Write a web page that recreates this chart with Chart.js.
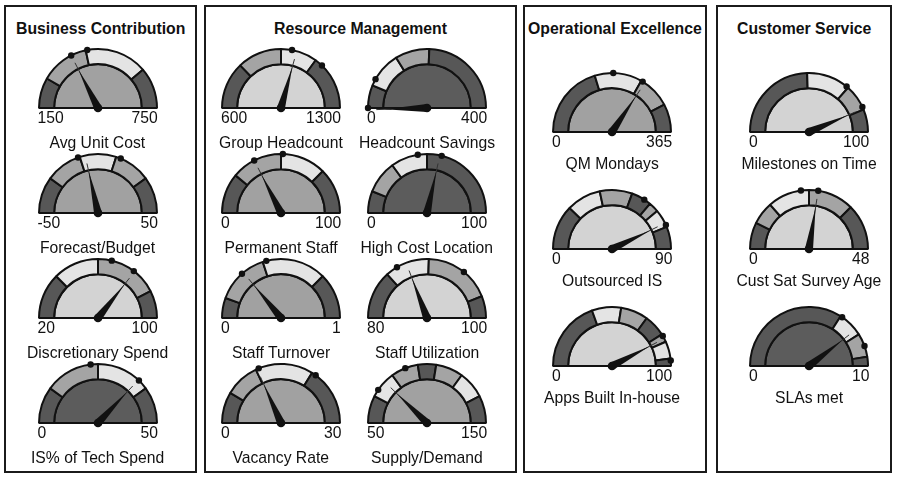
<!DOCTYPE html>
<html>
<head>
<meta charset="utf-8">
<script src="https://cdn.jsdelivr.net/npm/chart.js@4.4.0/dist/chart.umd.min.js"></script>
<style>
    body{margin:0;background:#fff;font-family:"Liberation Sans",Arial,Helvetica,sans-serif;}
    #painel{position:relative;width:897px;height:478px;overflow:hidden;}
    .bloco{position:absolute;box-sizing:border-box;border:2px solid #1b1b1b;}
    .titulo{position:absolute;font-weight:bold;font-size:15.8px;line-height:15px;white-space:nowrap;color:#111;}
    .rotulo{position:absolute;font-size:15.7px;line-height:15px;white-space:nowrap;color:#111;}
    canvas{position:absolute;}
</style>
</head>
<body>
<div id="painel"></div>
<script>
// dados dos medidores
var titulosPaineis=["Business Contribution","Resource Management","Operational Excellence","Customer Service"];
var nomesMedidores=["Avg Unit Cost","Forecast/Budget","Discretionary Spend","IS% of Tech Spend",
    "Group Headcount","Headcount Savings","Permanent Staff","High Cost Location","Staff Turnover","Staff Utilization","Vacancy Rate","Supply/Demand",
    "QM Mondays","Outsourced IS","Apps Built In-house",
    "Milestones on Time","Cust Sat Survey Age","SLAs met"];
var painelDoMedidor=[0,0,0,0, 1,1,1,1,1,1,1,1, 2,2,2, 3,3,3];
var minimos=[150,-50,20,0, 600,0,0,0,0,80,0,50, 0,0,0, 0,0,0];
var maximos=[750,50,100,50, 1300,400,100,100,1,100,30,150, 365,90,100, 100,48,10];
var valores=[360,-7,77,37, 1010,-4,35,57,0.28,87.7,11,74.6, 251,77,84.6, 87,26.4,7.9];
var limitesFaixas=[
    [250,410,615],
    [-30,-10,10,30],
    [40,60,88],
    [10,25,40],
    [780,950,1090],
    [50,130,205],
    [22,50,75],
    [12,30,50],
    [0.11,0.40,0.75],
    [85.3,90.2,97.6],
    [5.1,10.8,20.3],
    [65,80,95,105,120,135],
    [148,243,309],
    [22,39,55,65,70,79],
    [39,55,70,82,86.5,96],
    [49,73,87.6],
    [7,13,24,36],
    [6.8,8.2,9.5]
];
var tonsFaixas=["DMLD","DMLMD","DLMD","DMLD",
    "DMLD","DLMD","DMLD","DMLD","DMLD","DLMD","DMLD","DLMDMLD",
    "DLMD","DLMDMLD","DLMDMLD",
    "DLMD","DMLMD","DLMD"];
var tonsInternos=["M","M","L","D", "L","D","M","D","M","L","M","M", "M","L","L", "L","L","D"];
var marcadores=[[360,415],[-11,12.6],[66,76.6],[23,37.2],
    [992,1121],[0,65],[35,51],[45,58],[0.27,0.42],[86.6,94.3],[11.3,21],[69,88],
    [185,246],[61.6,78],[83,97],
    [72,86],[21.9,26.4],[6.9,8.9]];

// layout
var caixasPaineis=[[4,5,193,468],[204,5,313,468],[523,5,184,468],[716,5,176,468]];
var centroX=[97.5,97.5,97.5,97.5, 281,427,281,427,281,427,281,427, 612,612,612, 809,809,809];
var baseY=[109,214,319,424, 109,109,214,214,319,319,424,424, 133,250,367, 133,250,367];
var distNome=[37.5,35,35,35]; // distancia da base ao nome, por painel
var raio=61, folga=8;
var coresBanda={D:"#575757",M:"#a4a4a4",L:"#e4e4e4"};
var coresInternas={D:"#5c5c5c",M:"#a1a1a1",L:"#d3d3d3"};

var painel=document.getElementById("painel");

function criaTexto(classe,texto,x,y,alinhamento){
    var el=document.createElement("div");
    el.className=classe;
    el.textContent=texto;
    painel.appendChild(el);
    var w=el.offsetWidth;
    var left=x;
    if(alinhamento=="centro") left=x-w/2;
    if(alinhamento=="direita") left=x-w;
    el.style.left=left+"px";
    el.style.top=(y-12)+"px"; // y = linha de base do texto
    return el;
}

for (let i = 0; i < caixasPaineis.length; i++) {
    var b=document.createElement("div");
    b.className="bloco";
    b.style.left=caixasPaineis[i][0]+"px";
    b.style.top=caixasPaineis[i][1]+"px";
    b.style.width=caixasPaineis[i][2]+"px";
    b.style.height=caixasPaineis[i][3]+"px";
    painel.appendChild(b);
    criaTexto("titulo",titulosPaineis[i],caixasPaineis[i][0]+caixasPaineis[i][2]/2,33,"centro");
}

function pluginPonteiro(idx){
    return {
        id:"ponteiro"+idx,
        afterDatasetsDraw:function(chart){
            var arco=chart.getDatasetMeta(0).data[0];
            var cx=arco.x, cy=arco.y, r=arco.outerRadius;
            var mn=minimos[idx], mx=maximos[idx];
            function ang(v){ return Math.PI+(v-mn)/(mx-mn)*Math.PI; }
            var ctx=chart.ctx;
            ctx.save();
            // marcadores na borda
            ctx.fillStyle="#111";
            for (let k = 0; k < marcadores[idx].length; k++) {
                var a=ang(marcadores[idx][k]);
                ctx.beginPath();
                ctx.arc(cx+r*Math.cos(a),cy+r*Math.sin(a),3.2,0,Math.PI*2);
                ctx.fill();
            }
            var a=ang(valores[idx]);
            var c=Math.cos(a), s=Math.sin(a);
            // linha fina
            ctx.strokeStyle="#333";
            ctx.lineWidth=1;
            ctx.beginPath();
            ctx.moveTo(cx+c*r*0.6,cy+s*r*0.6);
            ctx.lineTo(cx+c*r*0.86,cy+s*r*0.86);
            ctx.stroke();
            // ponteiro
            ctx.fillStyle="#111";
            ctx.beginPath();
            ctx.moveTo(cx-s*4,cy+c*4);
            ctx.lineTo(cx+c*r*0.72,cy+s*r*0.72);
            ctx.lineTo(cx+s*4,cy-c*4);
            ctx.closePath();
            ctx.fill();
            ctx.beginPath();
            ctx.arc(cx,cy,4.3,0,Math.PI*2);
            ctx.fill();
            ctx.restore();
        }
    };
}

for (let i = 0; i < nomesMedidores.length; i++) {
    var cv=document.createElement("canvas");
    cv.width=raio*2+folga*2;
    cv.height=raio+folga+7;
    cv.style.left=(centroX[i]-raio-folga)+"px";
    cv.style.top=(baseY[i]-raio-folga)+"px";
    painel.appendChild(cv);

    var limites=[minimos[i]].concat(limitesFaixas[i]).concat([maximos[i]]);
    var larguras=[], cores=[];
    for (let k = 1; k < limites.length; k++) {
        larguras.push(limites[k]-limites[k-1]);
        cores.push(coresBanda[tonsFaixas[i][k-1]]);
    }

    new Chart(cv,{
        type:"doughnut",
        data:{
            datasets:[{
                data:larguras,
                backgroundColor:cores,
                borderColor:"#111",
                borderWidth:2,
                weight:1
            },{
                data:[1],
                backgroundColor:[coresInternas[tonsInternos[i]]],
                borderColor:"#111",
                borderWidth:2,
                weight:2.9
            }]
        },
        options:{
            responsive:false,
            animation:false,
            events:[],
            rotation:-90,
            circumference:180,
            cutout:0,
            layout:{padding:{left:folga,right:folga,top:folga,bottom:7}},
            plugins:{legend:{display:false},tooltip:{enabled:false}}
        },
        plugins:[pluginPonteiro(i)]
    });

    criaTexto("rotulo",String(minimos[i]),centroX[i]-raio+1,baseY[i]+13,"esquerda");
    criaTexto("rotulo",String(maximos[i]),centroX[i]+raio-1,baseY[i]+13,"direita");
    criaTexto("rotulo",nomesMedidores[i],centroX[i],baseY[i]+distNome[painelDoMedidor[i]<2?0:1],"centro");
}
</script>
</body>
</html>
